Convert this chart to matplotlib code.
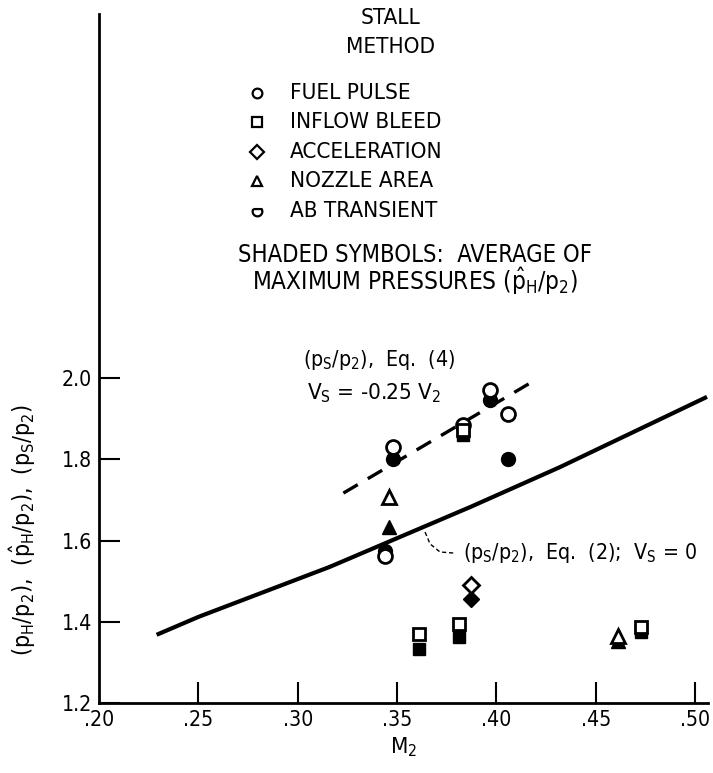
import matplotlib
matplotlib.use("Agg")
import matplotlib.pyplot as plt
from matplotlib import font_manager
import numpy as np

# Valeurs (M2, rapport de pression)
# symboles ouverts = pression max, symboles pleins = moyenne des max
fuel_x = [0.344, 0.348, 0.383, 0.397, 0.406]
fuel_y = [1.562, 1.830, 1.885, 1.972, 1.912]
fuel_avg_x = [0.344, 0.348, 0.397, 0.406]
fuel_avg_y = [1.575, 1.800, 1.946, 1.800]

bleed_x = [0.361, 0.381, 0.383, 0.473]
bleed_y = [1.370, 1.395, 1.872, 1.388]
bleed_avg_x = [0.361, 0.381, 0.383, 0.473]
bleed_avg_y = [1.333, 1.363, 1.860, 1.376]

accel_x = [0.387]
accel_y = [1.490]
accel_avg_x = [0.387]
accel_avg_y = [1.455]

nozzle_x = [0.346, 0.461]
nozzle_y = [1.707, 1.366]
nozzle_avg_x = [0.346, 0.461]
nozzle_avg_y = [1.633, 1.352]

# courbe Eq. (2), Vs = 0
eq2_x = [0.229, 0.250, 0.316, 0.387, 0.432, 0.506]
eq2_y = [1.368, 1.412, 1.535, 1.683, 1.781, 1.954]
# droite Eq. (4), Vs = -0.25 V2
eq4_x = [0.323, 0.418]
eq4_y = [1.717, 1.991]

xticks = [0.20, 0.25, 0.30, 0.35, 0.40, 0.45, 0.50]
yticks = [1.2, 1.4, 1.6, 1.8, 2.0]

legend_labels = ["FUEL PULSE", "INFLOW BLEED", "ACCELERATION", "NOZZLE AREA", "AB TRANSIENT"]

# police étroite si possible
names = {f.name for f in font_manager.fontManager.ttflist}
if "Liberation Sans Narrow" in names:
    fam = "Liberation Sans Narrow"
    plt.rcParams["font.family"] = fam
    plt.rcParams["mathtext.rm"] = fam
    plt.rcParams["mathtext.it"] = fam
    k = 1.0
else:
    fam = "DejaVu Sans"
    plt.rcParams["font.family"] = fam
    plt.rcParams["font.stretch"] = "condensed"
    plt.rcParams["mathtext.rm"] = "DejaVu Sans:stretch=condensed"
    plt.rcParams["mathtext.it"] = "DejaVu Sans:stretch=condensed"
    k = 0.85
plt.rcParams["mathtext.fontset"] = "custom"
plt.rcParams["mathtext.default"] = "regular"

fig = plt.figure(figsize=(7.13, 7.73), dpi=100)
ax = fig.add_axes([99 / 713, 1 - 703 / 773, 609 / 713, 689 / 773])
ax.set_xlim(0.20, 0.5065)
ax.set_ylim(1.2, 2.897)
for s in ["top", "right"]:
    ax.spines[s].set_visible(False)
for s in ["left", "bottom"]:
    ax.spines[s].set_linewidth(2.0)

ax.set_xticks(xticks)
ax.set_xticklabels(["." + "%02d" % round(v * 100) for v in xticks])
ax.set_yticks(yticks)
ax.set_yticklabels(["%.1f" % v for v in yticks])
ax.tick_params(direction="in", length=15, width=1.5, labelsize=18 * k, pad=5)
ax.xaxis.get_major_ticks()[0].tick1line.set_visible(False)

# courbes
ax.plot(eq2_x, eq2_y, color="black", lw=3.0, solid_capstyle="butt")
ax.plot(eq4_x, eq4_y, color="black", lw=2.4, dashes=(5, 3.5))

ms = 10
mew = 2.0
# symboles pleins d'abord, ouverts par dessus
ax.plot(fuel_avg_x, fuel_avg_y, "o", ms=ms, color="black", ls="none")
ax.plot(bleed_avg_x, bleed_avg_y, "s", ms=ms - 1, color="black", ls="none")
ax.plot(accel_avg_x, accel_avg_y, "D", ms=ms - 2, color="black", ls="none")
ax.plot(nozzle_avg_x, nozzle_avg_y, "^", ms=ms, color="black", ls="none")
ax.plot(fuel_x, fuel_y, "o", ms=ms, mfc="white", mec="black", mew=mew, ls="none")
ax.plot(bleed_x, bleed_y, "s", ms=ms - 1, mfc="white", mec="black", mew=mew, ls="none")
ax.plot(accel_x, accel_y, "D", ms=ms - 2, mfc="white", mec="black", mew=mew, ls="none")
ax.plot(nozzle_x, nozzle_y, "^", ms=ms, mfc="white", mec="black", mew=mew, ls="none")

# légende faite à la main
# symbole AB : cercle coupé en haut
t = np.radians(np.linspace(150, 390, 25))
ab_marker = [(np.cos(a), np.sin(a)) for a in t]
ab_marker.append(ab_marker[0])
markers = ["o", "s", "D", "^", ab_marker]
ax.text(0.3465, 2.887, "STALL", ha="center", va="center", fontsize=19 * k)
ax.text(0.3465, 2.816, "METHOD", ha="center", va="center", fontsize=19 * k)
row_y = [2.702, 2.631, 2.557, 2.486, 2.412]
for m, lab, yy in zip(markers, legend_labels, row_y):
    ax.plot([0.2795], [yy], marker=m, ms=7, mfc="white", mec="black", mew=1.6, ls="none")
    ax.text(0.2961, yy, lab, ha="left", va="center", fontsize=19 * k)
ax.text(0.359, 2.303, "SHADED SYMBOLS:  AVERAGE OF", ha="center", va="center", fontsize=20 * k)
ax.text(0.359, 2.238, r"MAXIMUM PRESSURES $(\hat{p}_H/p_2)$", ha="center", va="center", fontsize=20.5 * k)

# annotations des courbes
ax.text(0.3027, 2.045, r"$(p_S/p_2)$,  Eq.  (4)", ha="left", va="center", fontsize=18 * k)
ax.text(0.3047, 1.962, r"$V_S$ = -0.25 $V_2$", ha="left", va="center", fontsize=19 * k)
ax.text(0.3832, 1.569, r"$(p_S/p_2)$,  Eq.  (2);  $V_S$ = 0", ha="left", va="center", fontsize=18 * k)
lead_x = [0.3641, 0.3666, 0.3716, 0.3792]
lead_y = [1.621, 1.592, 1.572, 1.569]
ax.plot(lead_x, lead_y, color="black", lw=1.0, dashes=(3, 2))

ax.set_xlabel(r"$M_2$", fontsize=19 * k, labelpad=4)
ax.set_ylabel(r"$(p_H/p_2)$,  $(\hat{p}_H/p_2)$,  $(p_S/p_2)$", fontsize=19.5 * k)
ax.yaxis.set_label_coords(-0.100, 0.251)

fig.savefig("out.png", dpi=100)
